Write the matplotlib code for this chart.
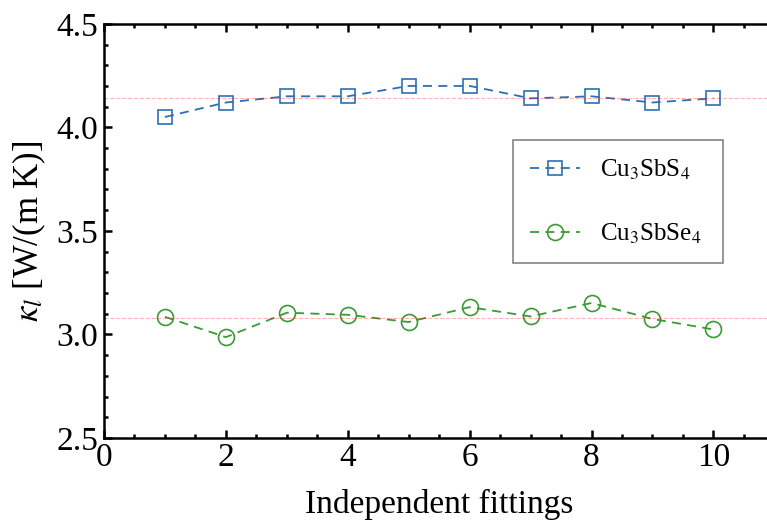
import numpy as np
import matplotlib
matplotlib.use("Agg")
import matplotlib.pyplot as plt
from matplotlib.ticker import MultipleLocator, FormatStrFormatter

# data
fittings = [1, 2, 3, 4, 5, 6, 7, 8, 9, 10]
kappa_sbs4 = [4.05, 4.12, 4.15, 4.15, 4.20, 4.20, 4.14, 4.15, 4.12, 4.14]
kappa_sbse4 = [3.085, 2.987, 3.105, 3.095, 3.06, 3.132, 3.087, 3.152, 3.075, 3.024]
labels = [r"Cu$_3$SbS$_4$", r"Cu$_3$SbSe$_4$"]

plt.rcParams["font.family"] = "Liberation Serif"
plt.rcParams["mathtext.fontset"] = "stix"

fig = plt.figure(figsize=(7.67, 5.29), dpi=100)
ax = fig.add_axes([0.1356, 0.172, 0.874, 0.783])

ax.plot(fittings, kappa_sbs4, "--", dashes=(5, 3.5), color="#2f6fb0",
        marker="s", ms=10, mfc="none", mew=1.2, lw=1.3, label=labels[0])
ax.plot(fittings, kappa_sbse4, "--", dashes=(5, 3.5), color="#3a9a35",
        marker="o", ms=11.5, mfc="none", mew=1.2, lw=1.3, label=labels[1])

# mean lines
ax.axhline(np.mean(kappa_sbs4), color="red", ls="--", lw=0.8, alpha=0.3)
ax.axhline(np.mean(kappa_sbse4), color="red", ls="--", lw=0.8, alpha=0.3)

ax.set_xlim(0, 11)
ax.set_ylim(2.5, 4.5)
ax.xaxis.set_major_locator(MultipleLocator(2))
ax.xaxis.set_minor_locator(MultipleLocator(0.5))
ax.yaxis.set_major_locator(MultipleLocator(0.5))
ax.yaxis.set_minor_locator(MultipleLocator(0.1))
ax.yaxis.set_major_formatter(FormatStrFormatter("%.1f"))

ax.tick_params(which="both", direction="in", top=True, right=False,
               labelsize=24, width=1.8)
ax.tick_params(which="major", length=6)
ax.tick_params(which="minor", length=3)
ax.tick_params(axis="x", pad=3)
ax.tick_params(axis="y", pad=4)
for s in ["left", "bottom", "top"]:
    ax.spines[s].set_linewidth(1.8)
ax.spines["right"].set_visible(False)

ax.set_xlabel("Independent fittings", fontsize=24, labelpad=12)
ax.set_ylabel(r"$\kappa_l$ [W/(m K)]", fontsize=25, labelpad=6)

leg = ax.legend(loc="upper left", bbox_to_anchor=(0.610, 0.415, 0.314, 0.305),
                mode="expand", fontsize=18, frameon=True, fancybox=False,
                edgecolor="#666666", borderpad=0.7, labelspacing=1.6,
                handlelength=2.0, handletextpad=0.8, borderaxespad=0)
leg.get_frame().set_linewidth(1.2)

fig.savefig("out.png", dpi=100)
